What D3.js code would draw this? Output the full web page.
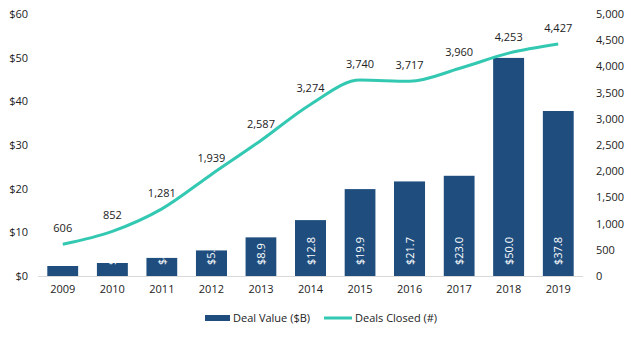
<!DOCTYPE html>
<html>
<head>
<meta charset="utf-8">
<script src="https://cdn.jsdelivr.net/npm/d3@7"></script>
<style>
  body { margin: 0; background: #fff; }
  text { font-family: "Open Sans", "Liberation Sans", sans-serif; font-size: 11px; fill: #222; }
</style>
</head>
<body>
<div id="chart"></div>
<script>
// yearly deal data
var years = ["2009", "2010", "2011", "2012", "2013", "2014", "2015", "2016", "2017", "2018", "2019"];
var dealValue = [2.3, 3.0, 4.2, 5.9, 8.9, 12.8, 19.9, 21.7, 23.0, 50.0, 37.8];
var dealsClosed = [606, 852, 1281, 1939, 2587, 3274, 3740, 3717, 3960, 4253, 4427];
var leftTicks = [0, 10, 20, 30, 40, 50, 60];
var rightTicks = [0, 500, 1000, 1500, 2000, 2500, 3000, 3500, 4000, 4500, 5000];

var width = 631, height = 338;
var barColor = "#1f4e7e", lineColor = "#33c8b2";

var svg = d3.select("#chart").append("svg")
    .attr("width", width)
    .attr("height", height);

var x = d3.scaleBand().domain(years).range([38, 583]).paddingInner(0.37).paddingOuter(0.185);
var yLeft = d3.scaleLinear().domain([0, 60]).range([276, 14]);
var yRight = d3.scaleLinear().domain([0, 5000]).range([276, 14]);

// left axis ($B)
var leftAxis = d3.axisLeft(yLeft).tickValues(leftTicks).tickSize(0).tickPadding(0)
    .tickFormat(d => "$" + d);
svg.append("g").attr("transform", "translate(28,0)").call(leftAxis)
    .call(g => g.select(".domain").remove());

// right axis (count)
var rightAxis = d3.axisRight(yRight).tickValues(rightTicks).tickSize(0).tickPadding(0)
    .tickFormat(d3.format(","));
svg.append("g").attr("transform", "translate(596,0)").call(rightAxis)
    .call(g => g.select(".domain").remove());

// bottom axis
var bottomAxis = d3.axisBottom(x).tickSize(0).tickPadding(9);
svg.append("g").attr("transform", "translate(0,276)").call(bottomAxis)
    .call(g => g.select(".domain").attr("stroke", "#d9d9d9").attr("d", "M38,0.5H583"));

svg.selectAll(".tick text").style("font-family", "\"Open Sans\", \"Liberation Sans\", sans-serif")
    .style("font-size", "11px").attr("fill", "#222");

// bars, each with its own clip so labels stay inside
var defs = svg.append("defs");
years.forEach(function(yr, i) {
    defs.append("clipPath").attr("id", "clip" + i)
        .append("rect")
        .attr("x", x(yr))
        .attr("y", yLeft(dealValue[i]))
        .attr("width", x.bandwidth())
        .attr("height", yLeft(0) - yLeft(dealValue[i]));
});

var bars = svg.append("g").selectAll("g")
    .data(dealValue)
    .enter().append("g")
    .attr("clip-path", (d, i) => "url(#clip" + i + ")");

bars.append("rect")
    .attr("x", (d, i) => x(years[i]))
    .attr("y", d => yLeft(d))
    .attr("width", x.bandwidth())
    .attr("height", d => yLeft(0) - yLeft(d))
    .attr("fill", barColor);

bars.append("text")
    .attr("transform", (d, i) => "translate(" + (x(years[i]) + x.bandwidth() / 2 + 4) + "," + (yLeft(0) - 11) + ") rotate(-90)")
    .attr("text-anchor", "start")
    .style("fill", "#fff")
    .text(d => "$" + d.toFixed(1));

// deals closed line
var line = d3.line()
    .x((d, i) => x(years[i]) + x.bandwidth() / 2)
    .y(d => yRight(d))
    .curve(d3.curveMonotoneX);

svg.append("path")
    .datum(dealsClosed)
    .attr("d", line)
    .attr("fill", "none")
    .attr("stroke", lineColor)
    .attr("stroke-width", 3);

svg.append("g").selectAll("text")
    .data(dealsClosed)
    .enter().append("text")
    .attr("x", (d, i) => x(years[i]) + x.bandwidth() / 2)
    .attr("y", d => yRight(d) - 12)
    .attr("text-anchor", "middle")
    .text(d3.format(","));

// legend
var legend = svg.append("g").attr("transform", "translate(0,318)");
legend.append("rect").attr("x", 205).attr("y", -3).attr("width", 25).attr("height", 6).attr("fill", barColor);
legend.append("text").attr("x", 233).attr("y", 4).text("Deal Value ($B)");
legend.append("line").attr("x1", 324).attr("x2", 352).attr("y1", 0).attr("y2", 0)
    .attr("stroke", lineColor).attr("stroke-width", 3);
legend.append("text").attr("x", 355).attr("y", 4).text("Deals Closed (#)");
</script>
</body>
</html>
